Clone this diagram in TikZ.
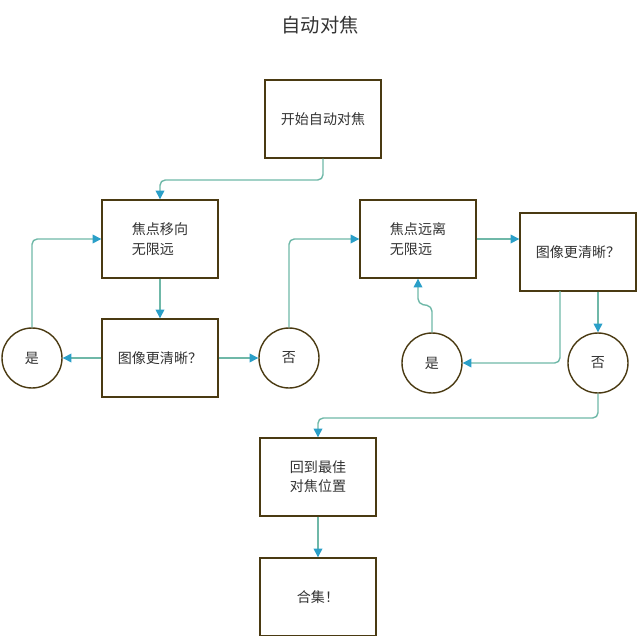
\documentclass[tikz,border=0pt]{standalone}
\usepackage{fontspec}
\setmainfont{Noto Sans CJK SC}
\usetikzlibrary{arrows.meta}
\definecolor{boxline}{HTML}{4A3A12}
\definecolor{flowline}{HTML}{6FB8A8}
\definecolor{tipblue}{HTML}{2A9FC8}
\tikzset{
    stepbox/.style={draw=boxline,thick,fill=white,minimum width=2.32cm,minimum height=1.56cm,
        align=left,font=\fontsize{8}{11}\selectfont,text=black!80},
    answer/.style={draw=boxline,thick,circle,minimum size=1.2cm,inner sep=0pt,
        font=\fontsize{8}{11}\selectfont,text=black!80},
    flow/.style={draw=flowline,thick,rounded corners=3pt,
        -{Triangle[length=5pt,width=5pt,color=tipblue]}}
}
\begin{document}
\begin{tikzpicture}[x=0.02cm,y=-0.02cm]
    \useasboundingbox (0,0) rectangle (640,636);
    \node[font=\fontsize{11}{13}\selectfont,text=black!80] (title) at (320,25) {自动对焦};

    % left branch
    \node[stepbox] (start) at (323,119) {开始自动对焦};
    \node[stepbox] (near) at (160,239) {焦点移向\\无限远};
    \node[stepbox] (checkA) at (160,358) {图像更清晰？};
    \node[answer] (yesA) at (32,358) {是};
    \node[answer] (noA) at (289,358) {否};

    % right branch
    \node[stepbox] (far) at (418,239) {焦点远离\\无限远};
    \node[stepbox] (checkB) at (578,252) {图像更清晰？};
    \node[answer] (yesB) at (432,363) {是};
    \node[answer] (noB) at (598,363) {否};

    % end
    \node[stepbox] (back) at (318,477) {回到最佳\\对焦位置};
    \node[stepbox] (done) at (318,597) {合集！};

    \draw[flow] (start.south) |- (160,180) -- (near.north);
    \draw[flow] (near) -- (checkA);
    \draw[flow] (checkA) -- (yesA);
    \draw[flow] (checkA) -- (noA);
    \draw[flow] (yesA.north) |- (near.west);
    \draw[flow] (noA.north) |- (far.west);
    \draw[flow] (far.east) -- (checkB.west |- far.east);
    \draw[flow] (560,291) |- (yesB.east);
    \draw[flow] (checkB.south -| noB) -- (noB.north);
    \draw[flow] (yesB.north) -- (432,306) -- (418,304) -- (far.south);
    \draw[flow] (noB.south) |- (318,418) -- (back.north);
    \draw[flow] (back) -- (done);
\end{tikzpicture}
\end{document}
